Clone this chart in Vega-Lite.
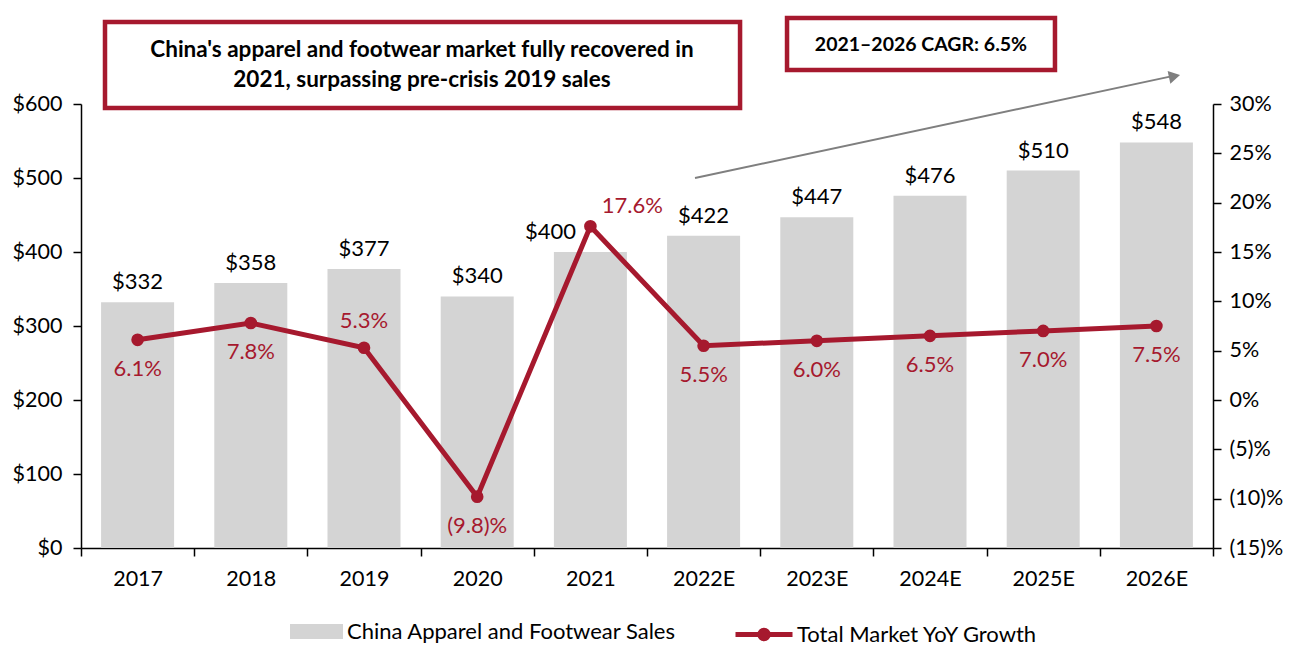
{
  "$schema": "https://vega.github.io/schema/vega-lite/v6.json",
  "width": 1132,
  "height": 444,
  "autosize": {"type": "none"},
  "padding": {"left": 81, "top": 104, "right": 92, "bottom": 108},
  "config": {
    "font": "Lato",
    "view": {"stroke": null},
    "axis": {
      "labelFont": "Lato",
      "labelFontSize": 21.5,
      "labelColor": "black",
      "domainColor": "black",
      "tickColor": "black",
      "domainWidth": 1.5,
      "tickWidth": 1.5,
      "tickSize": 8,
      "labelPadding": 8,
      "grid": false,
      "title": null
    }
  },
  "datasets": {
    "sales": [
      {"year": "2017", "sales": 332, "growth": 6.1},
      {"year": "2018", "sales": 358, "growth": 7.8},
      {"year": "2019", "sales": 377, "growth": 5.3},
      {"year": "2020", "sales": 340, "growth": -9.8},
      {"year": "2021", "sales": 400, "growth": 17.6},
      {"year": "2022E", "sales": 422, "growth": 5.5},
      {"year": "2023E", "sales": 447, "growth": 6.0},
      {"year": "2024E", "sales": 476, "growth": 6.5},
      {"year": "2025E", "sales": 510, "growth": 7.0},
      {"year": "2026E", "sales": 548, "growth": 7.5}
    ]
  },
  "layer": [
    {
      "data": {"name": "sales"},
      "transform": [
        {"calculate": "datum.growth < 0 ? '(' + format(-datum.growth, '.1f') + ')%' : format(datum.growth, '.1f') + '%'", "as": "glabel"},
        {"calculate": "'$' + datum.sales", "as": "slabel"}
      ],
      "encoding": {
        "x": {
          "field": "year",
          "type": "ordinal",
          "sort": null,
          "scale": {
            "domain": ["2017", "2018", "2019", "2020", "2021", "2022E", "2023E", "2024E", "2025E", "2026E"],
            "paddingInner": 0,
            "paddingOuter": 0
          },
          "axis": {"title": null, "labelAngle": 0, "tickBand": "extent", "labelPadding": 12}
        }
      },
      "layer": [
        {
          "layer": [
            {
              "mark": {"type": "bar", "color": "#d4d4d4", "width": {"band": 0.645}},
              "encoding": {
                "y": {
                  "field": "sales",
                  "type": "quantitative",
                  "scale": {"domain": [0, 600]},
                  "axis": {"values": [0, 100, 200, 300, 400, 500, 600], "labelExpr": "'$' + datum.value", "title": null, "labelPadding": 11}
                },
                "fill": {
                  "datum": "China Apparel and Footwear Sales",
                  "scale": {"range": ["#d4d4d4"]},
                  "legend": {
                    "orient": "none",
                    "legendX": 209,
                    "legendY": 501,
                    "title": null,
                    "symbolType": "M-1,-0.28H1V0.28H-1Z",
                    "symbolSize": 2809,
                    "symbolStrokeWidth": 0,
                    "labelFont": "Lato",
                    "labelFontSize": 22,
                    "labelColor": "black",
                    "labelOffset": 4,
                    "labelLimit": 500
                  }
                }
              }
            },
            {
              "transform": [{"filter": "datum.year != '2021'"}],
              "mark": {"type": "text", "baseline": "alphabetic", "dy": -13, "fontSize": 22, "color": "black"},
              "encoding": {
                "y": {"field": "sales", "type": "quantitative"},
                "text": {"field": "slabel"}
              }
            },
            {
              "transform": [{"filter": "datum.year == '2021'"}],
              "mark": {"type": "text", "baseline": "middle", "dy": -20, "dx": -40, "fontSize": 22, "color": "black"},
              "encoding": {
                "y": {"field": "sales", "type": "quantitative"},
                "text": {"field": "slabel"}
              }
            }
          ]
        },
        {
          "layer": [
            {
              "mark": {"type": "line", "strokeWidth": 5},
              "encoding": {
                "y": {
                  "field": "growth",
                  "type": "quantitative",
                  "scale": {"domain": [-15, 30]},
                  "axis": {
                    "orient": "right",
                    "values": [-15, -10, -5, 0, 5, 10, 15, 20, 25, 30],
                    "labelExpr": "datum.value < 0 ? '(' + format(-datum.value, 'd') + ')%' : format(datum.value, 'd') + '%'",
                    "title": null
                  }
                },
                "stroke": {
                  "datum": "Total Market YoY Growth",
                  "scale": {"range": ["#A6192E"]},
                  "legend": {
                    "orient": "none",
                    "legendX": 652,
                    "legendY": 499.5,
                    "title": null,
                    "symbolType": "M-1,0H1M-0.15,0A0.15,0.15,0,1,1,0.15,0A0.15,0.15,0,1,1,-0.15,0Z",
                    "symbolSize": 3249,
                    "symbolStrokeWidth": 5,
                    "symbolFillColor": "#A6192E",
                    "labelFont": "Lato",
                    "labelFontSize": 22,
                    "labelColor": "black",
                    "labelOffset": 2,
                    "labelLimit": 500
                  }
                }
              }
            },
            {
              "mark": {"type": "point", "filled": true, "size": 160, "color": "#A6192E", "opacity": 1},
              "encoding": {"y": {"field": "growth", "type": "quantitative"}}
            },
            {
              "transform": [{"filter": "datum.year != '2019' && datum.year != '2021'"}],
              "mark": {"type": "text", "baseline": "middle", "dy": 29, "fontSize": 22, "color": "#A6192E"},
              "encoding": {
                "y": {"field": "growth", "type": "quantitative"},
                "text": {"field": "glabel"}
              }
            },
            {
              "transform": [{"filter": "datum.year == '2019'"}],
              "mark": {"type": "text", "baseline": "middle", "dy": -27, "fontSize": 22, "color": "#A6192E"},
              "encoding": {
                "y": {"field": "growth", "type": "quantitative"},
                "text": {"field": "glabel"}
              }
            },
            {
              "transform": [{"filter": "datum.year == '2021'"}],
              "mark": {"type": "text", "baseline": "middle", "dy": -20, "dx": 42, "fontSize": 22, "color": "#A6192E"},
              "encoding": {
                "y": {"field": "growth", "type": "quantitative"},
                "text": {"field": "glabel"}
              }
            }
          ]
        }
      ],
      "resolve": {"scale": {"y": "independent"}}
    },
    {
      "data": {"values": [{}]},
      "layer": [
        {
          "mark": {"type": "rect", "fill": "white", "stroke": "#A6192E", "strokeWidth": 4.5},
          "encoding": {
            "x": {"datum": 0.212, "type": "quantitative", "scale": {"domain": [0, 10]}, "axis": null},
            "x2": {"datum": 5.822},
            "y": {"datum": 710.8, "type": "quantitative", "scale": {"domain": [0, 600]}, "axis": null},
            "y2": {"datum": 594.6}
          }
        },
        {
          "mark": {"type": "rect", "fill": "white", "stroke": "#A6192E", "strokeWidth": 4.5},
          "encoding": {
            "x": {"datum": 6.237, "type": "quantitative"},
            "x2": {"datum": 8.604},
            "y": {"datum": 716.2, "type": "quantitative"},
            "y2": {"datum": 645.9}
          }
        },
        {
          "mark": {"type": "text", "fontSize": 22.5, "fontWeight": "bold", "align": "center", "baseline": "middle", "lineHeight": 30, "color": "black",
            "text": ["China's apparel and footwear market fully recovered in", "2021, surpassing pre-crisis 2019 sales"]},
          "encoding": {
            "x": {"datum": 3.012, "type": "quantitative"},
            "y": {"datum": 673, "type": "quantitative"}
          }
        },
        {
          "mark": {"type": "text", "fontSize": 19.5, "fontWeight": "bold", "align": "center", "baseline": "middle", "color": "black", "text": "2021–2026 CAGR: 6.5%"},
          "encoding": {
            "x": {"datum": 7.42, "type": "quantitative"},
            "y": {"datum": 679.7, "type": "quantitative"}
          }
        },
        {
          "mark": {"type": "rule", "color": "#7f7f7f", "strokeWidth": 2},
          "encoding": {
            "x": {"datum": 5.424, "type": "quantitative"},
            "x2": {"datum": 9.62},
            "y": {"datum": 500, "type": "quantitative"},
            "y2": {"datum": 637}
          }
        },
        {
          "mark": {"type": "point", "shape": "triangle-up", "filled": true, "color": "#7f7f7f", "opacity": 1, "size": 170, "angle": 78},
          "encoding": {
            "x": {"datum": 9.66, "type": "quantitative"},
            "y": {"datum": 637.5, "type": "quantitative"}
          }
        }
      ]
    }
  ],
  "resolve": {"scale": {"x": "independent", "y": "independent"}}
}
